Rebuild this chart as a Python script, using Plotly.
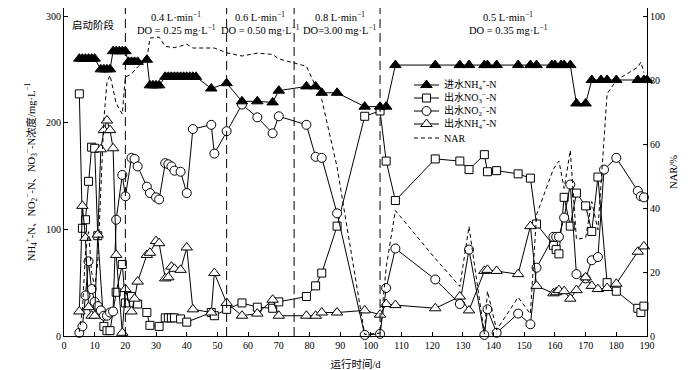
import plotly.graph_objects as go

# ---------------- data ----------------
inf_days = [5, 6, 7, 8, 9, 10, 12, 13, 14, 15, 16, 17, 18, 19, 20, 21, 22, 23, 24, 27,
            28, 29, 30, 31, 33, 34, 35, 36, 37, 38, 39, 40, 41, 42, 43, 48, 53, 58, 63, 68,
            70, 79, 82, 84, 89, 98, 103, 105, 108, 121, 129, 132, 137, 138, 141, 148, 152,
            154, 159, 160, 162, 163, 165, 167, 170, 172, 175, 177, 180, 187, 189, 190]
inf_nh4 = [260, 260, 260, 260, 260, 260, 250, 250, 250, 250, 267, 267, 267, 267, 267, 257,
           257, 257, 257, 259, 235, 235, 235, 235, 243, 243, 243, 243, 243, 243, 243, 243,
           243, 243, 243, 232, 237, 220, 220, 219, 230, 234, 234, 228, 228, 215, 215, 215,
           254, 254, 254, 254, 254, 254, 254, 254, 254, 254, 254, 254, 254, 254, 254, 218,
           218, 240, 240, 240, 240, 240, 240, 240]

no3_days = [5, 6, 7, 8, 9, 10, 11, 13, 14, 15, 17, 19, 20, 22, 24, 27, 28, 31, 33, 34, 35,
            36, 38, 40, 48, 49, 53, 58, 63, 68, 70, 79, 82, 84, 89, 98, 103, 105, 108, 121,
            129, 132, 137, 138, 141, 148, 152, 154, 159.5, 160.4, 161.3, 163, 165, 167, 170,
            172, 174, 177, 180, 187, 188, 189]
no3 = [227, 101, 109, 145, 177, 176, 94, 9, 5, 5, 41, 67, 31, 37, 30, 22, 10, 9, 17, 17, 17,
       17, 16, 13, 22, 19, 25, 31, 27, 26, 32, 37, 47, 59, 103, 206, 211, 164, 127, 166,
       164, 156, 170, 154, 155, 152, 148, 105, 85, 81, 77, 130, 103, 134, 122,
       98, 149, 50, 42, 26, 22, 28]

no2_days = [5, 6, 7, 8, 9, 10, 11, 12, 13, 14, 15, 16, 17, 19, 20, 22, 23, 24, 27, 28, 30,
            31, 33, 34, 35, 36, 38, 40, 42, 48, 49, 53, 58, 63, 68, 70, 79, 82, 84, 89, 98,
            103, 105, 108, 121, 129, 132, 137, 138, 141, 148, 152, 154, 159.5, 160.4, 161.3,
            163, 165, 167, 170, 172, 174, 176, 180, 187, 188, 189]
no2 = [3, 9, 38, 70, 44, 32, 28, 24, 19, 19, 22, 23, 109, 151, 131, 167, 166, 159, 140, 134,
       130, 128, 162, 161, 159, 155, 154, 134, 194, 198, 171, 192, 217, 205, 190, 206, 198,
       168, 167, 115, 1, 2, 45, 82, 53, 30, 81, 1, 25, 3, 21, 11, 64, 93, 93, 93,
       111, 142, 58, 54, 71, 74, 156, 167, 136, 131, 130]

eff_days = [5, 6, 7, 8, 9, 10, 11, 12, 13, 14, 15, 16, 17, 19, 20, 22, 23, 24, 27, 28, 30,
            31, 33, 34, 35, 36, 38, 40, 42, 48, 49, 53, 58, 63, 68, 70, 79, 82, 84, 89, 98,
            103, 105, 108, 121, 129, 132, 137, 138, 141, 148, 152, 154, 159.5, 160.4, 161.3,
            163, 165, 167, 170, 172, 174, 177, 180, 187, 189]
eff_nh4 = [23, 122, 92, 27, 19, 19, 95, 175, 193, 202, 193, 176, 76, 3, 44, 23, 35, 51, 76,
           78, 89, 87, 54, 55, 65, 63, 62, 83, 25, 22, 59, 31, 19, 21, 34, 19, 19, 19, 22,
           22, 24, 20, 30, 29, 26, 37, 24, 61, 62, 61, 58, 103, 47, 40, 41, 43,
           42, 35, 43, 55, 47, 44, 45, 49, 79, 84]

nar_days = [5, 6, 7, 8, 9, 10, 11, 13, 14, 15, 17, 19, 20, 22, 24, 27, 28, 31, 33, 34, 35,
            36, 38, 40, 42, 48, 49, 53, 58, 63, 68, 70, 79, 82, 84, 89, 98, 103, 105, 108,
            121, 129, 132, 137, 138, 141, 148, 152, 154, 159.5, 160.4, 161.3, 163, 165, 167,
            170, 172, 174, 177, 180, 187, 188, 189]
nar = [1.3, 8.2, 25.9, 32.6, 19.9, 15.4, 23, 67.9, 79.2, 81.5, 72.7, 69.3, 80.9, 81.9, 84.1,
       86.4, 93.1, 93.4, 90.5, 90.4, 90.3, 90.1, 90.6, 91.2, 90, 90, 90, 88.5, 87.5, 88.4,
       88, 86.6, 84.3, 78.1, 73.9, 52.8, 0.5, 0.9, 21.5, 39.2, 24.2, 15.5, 34.2, 0.6, 14,
       1.9, 12.1, 6.9, 37.9, 52.2, 53.4, 54.7, 46.1, 58, 30.2, 30.7, 42, 33.2, 75.7, 79.9,
       84, 85.6, 82.3]

phase_bounds = [20, 53, 75, 103]
phase_centers = [36.6, 64.0, 90.0, 144.7]
phase_air = ["0.4 L·min<sup>−1</sup>", "0.6 L·min<sup>−1</sup>",
             "0.8 L·min<sup>−1</sup>", "0.5 L·min<sup>−1</sup>"]
phase_do = ["DO = 0.25 mg·L<sup>−1</sup>", "DO = 0.50 mg·L<sup>−1</sup>",
            "DO=3.00 mg·L<sup>−1</sup>", "DO = 0.35 mg·L<sup>−1</sup>"]
start_label = "启动阶段"

legend_names = ["进水NH<sub>4</sub><sup>+</sup>-N", "出水NO<sub>3</sub><sup>−</sup>-N",
                "出水NO<sub>2</sub><sup>−</sup>-N", "出水NH<sub>4</sub><sup>+</sup>-N", "NAR"]

# ---------------- styling ----------------
FONT = "Liberation Serif, Noto Sans CJK SC, serif"
BLK = "black"
LW = 1

styles = [
    dict(symbol="triangle-up", size=10, color=BLK, line=dict(color=BLK, width=1)),
    dict(symbol="square", size=8, color="white", line=dict(color=BLK, width=1)),
    dict(symbol="circle", size=9, color="white", line=dict(color=BLK, width=1)),
    dict(symbol="triangle-up", size=10, color="white", line=dict(color=BLK, width=1)),
]

fig = go.Figure()

# NAR (right axis)
fig.add_trace(go.Scatter(x=nar_days, y=nar, yaxis="y2", mode="lines",
                         line=dict(color=BLK, width=LW, dash="4px,3px"),
                         showlegend=False, hoverinfo="skip"))

series = [(no3_days, no3), (no2_days, no2), (eff_days, eff_nh4), (inf_days, inf_nh4)]
for (xs, ys), st in zip(series, [styles[1], styles[2], styles[3], styles[0]]):
    fig.add_trace(go.Scatter(x=xs, y=ys, mode="lines+markers",
                             line=dict(color=BLK, width=LW), marker=st,
                             showlegend=False, cliponaxis=False))

# phase boundaries
for b in phase_bounds:
    fig.add_shape(type="line", xref="x", yref="paper", x0=b, x1=b, y0=0, y1=1,
                  line=dict(color=BLK, width=1, dash="9px,5px"))

ann_font = dict(family=FONT, size=10.5, color=BLK)
for xc, a, d in zip(phase_centers, phase_air, phase_do):
    fig.add_annotation(x=xc, y=300, xref="x", yref="y", text=a, showarrow=False,
                       font=ann_font, xanchor="center", yanchor="middle")
    fig.add_annotation(x=xc, y=287.5, xref="x", yref="y", text=d, showarrow=False,
                       font=ann_font, xanchor="center", yanchor="middle")
fig.add_annotation(x=1.8, y=291.5, xref="x", yref="y", text=start_label, showarrow=False,
                   font=ann_font, xanchor="left", yanchor="middle")

# custom legend drawn on a hidden overlay axis pair (page-pixel-like coordinates)
leg_font = dict(family=FONT, size=10, color=BLK)
leg_rows = [85, 98, 111, 124, 138]
leg_x0, leg_x1, leg_tx = 414, 439, 442
for i, (name, row) in enumerate(zip(legend_names, leg_rows)):
    if i < 4:
        fig.add_trace(go.Scatter(x=[leg_x0, leg_x1], y=[row, row], xaxis="x3", yaxis="y3",
                                 mode="lines", line=dict(color=BLK, width=LW),
                                 showlegend=False, hoverinfo="skip"))
        fig.add_trace(go.Scatter(x=[(leg_x0 + leg_x1) / 2], y=[row], xaxis="x3", yaxis="y3",
                                 mode="markers", marker=styles[i],
                                 showlegend=False, hoverinfo="skip"))
    else:
        fig.add_trace(go.Scatter(x=[leg_x0, leg_x1], y=[row, row], xaxis="x3", yaxis="y3",
                                 mode="lines", line=dict(color=BLK, width=LW, dash="4px,3px"),
                                 showlegend=False, hoverinfo="skip"))
    fig.add_annotation(x=leg_tx, y=row, xref="x3", yref="y3", text=name, showarrow=False,
                       font=leg_font, xanchor="left", yanchor="middle")

tick_font = dict(family=FONT, size=10, color=BLK)
title_font = dict(family=FONT, size=10.5, color=BLK)
# the page body adds an 8px offset, so the figure is 692x362 with margins compensating
fig.update_layout(
    width=692, height=362,
    margin=dict(l=56, r=53, t=0, b=34, autoexpand=False),
    paper_bgcolor="white", plot_bgcolor="white",
    font=dict(family=FONT, size=10, color=BLK),
    showlegend=False,
    xaxis=dict(range=[0, 190], dtick=10, tick0=0, ticks="inside", ticklen=4,
               tickcolor=BLK, showline=True, linecolor=BLK, linewidth=1, mirror=True,
               showgrid=False, zeroline=False, tickfont=tick_font,
               title=dict(text="运行时间/d", font=title_font, standoff=11)),
    yaxis=dict(range=[0, 307.5], tickvals=[0, 100, 200, 300], ticks="inside", ticklen=4,
               tickcolor=BLK, showline=True, linecolor=BLK, linewidth=1,
               showgrid=False, zeroline=False, tickfont=tick_font,
               title=dict(text="NH<sub>4</sub><sup>+</sup>-N、NO<sub>2</sub><sup>−</sup>-N、"
                               "NO<sub>3</sub><sup>−</sup>-N浓度/mg·L<sup>−1</sup>",
                          font=title_font, standoff=8)),
    yaxis2=dict(range=[0, 102.5], tickvals=[0, 20, 40, 60, 80, 100], overlaying="y",
                side="right", ticks="inside", ticklen=4, tickcolor=BLK, showline=True,
                linecolor=BLK, linewidth=1, showgrid=False, zeroline=False,
                tickfont=tick_font,
                title=dict(text="NAR/%", font=title_font, standoff=5)),
    xaxis3=dict(range=[64, 647], overlaying="x", anchor="y3", visible=False,
                fixedrange=True),
    yaxis3=dict(range=[336, 8], overlaying="y", anchor="x3", visible=False,
                fixedrange=True),
)

fig.write_html("out.html")
